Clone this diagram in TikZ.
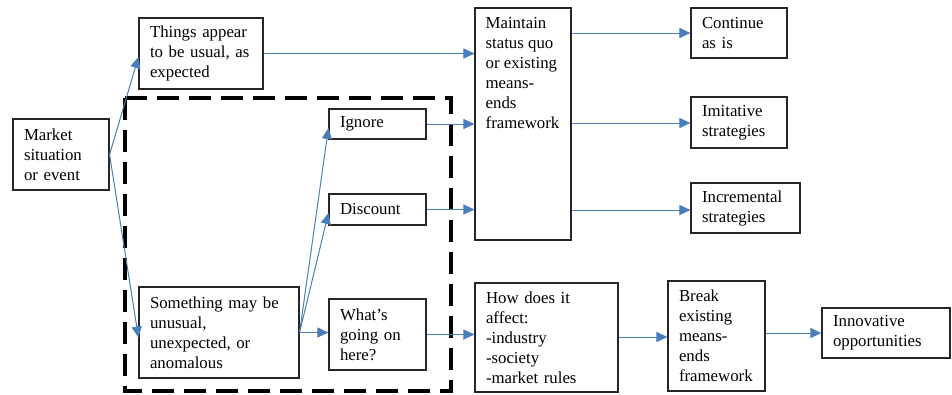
\documentclass[tikz,border=0pt]{standalone}
\usepackage{fontspec}
\setmainfont{Liberation Serif}
\usetikzlibrary{arrows.meta,calc}
\definecolor{arrblue}{HTML}{4A7EBB}
\tikzset{
  x=1pt, y=-1pt,
  box/.style={draw=black!85, line width=1.1pt, rectangle, inner xsep=11pt, inner ysep=0pt,
    align=left, font=\fontsize{16.8}{20}\selectfont},
  plain/.style={inner sep=0pt, align=left, font=\fontsize{16.8}{20}\selectfont},
  conn/.style={draw=arrblue, line width=1pt, -{Triangle[length=11pt,width=10pt]}},
  dashframe/.style={draw=black, line width=3.2pt, dash pattern=on 22pt off 10pt}
}
\begin{document}
\begin{tikzpicture}
\useasboundingbox (0,0) rectangle (952,394);
\draw[dashframe] (125,98) rectangle (451,391);

\node[box, minimum width=96pt, minimum height=71pt, text width=74pt] (market) at (61,154.5) {Market\\situation\\or event};
\node[box, minimum width=124pt, minimum height=71pt, text width=102pt] (things) at (201,53.5) {Things appear\\to be usual, as\\expected};
\node[box, minimum width=97pt, minimum height=30pt, text width=75pt] (ignore) at (377.5,124) {Ignore};
\node[box, minimum width=97pt, minimum height=31pt, text width=75pt] (discount) at (377.5,209.5) {Discount};
\node[box, minimum width=160pt, minimum height=91pt, text width=138pt] (some) at (219,332.5) {Something may be\\unusual,\\unexpected, or\\anomalous};
\node[box, minimum width=97pt, minimum height=71pt, text width=75pt] (whats) at (377.5,334.5) {What’s\\going on\\here?};
\node[box, minimum width=96pt, minimum height=232pt] (maint) at (523,124) {};
\node[plain, anchor=north west] (maintxt) at ($(maint.north west)+(11,10)$) {Maintain\\status quo\\or existing\\means-\\ends\\framework};
\node[box, minimum width=96pt, minimum height=50pt, text width=74pt] (cont) at (739,33) {Continue\\as is};
\node[box, minimum width=96pt, minimum height=51pt, text width=74pt] (imit) at (739,122.5) {Imitative\\strategies};
\node[box, minimum width=109pt, minimum height=50pt, text width=87pt] (incr) at (745.5,208) {Incremental\\strategies};
\node[box, minimum width=143pt, minimum height=109pt, text width=121pt] (how) at (546.5,337.5) {How does it\\affect:\\-industry\\-society\\-market rules};
\node[box, minimum width=97pt, minimum height=110pt, text width=75pt] (brk) at (716.5,336) {Break\\existing\\means-\\ends\\framework};
\node[box, minimum width=128pt, minimum height=50pt, text width=106pt] (innov) at (886,333) {Innovative\\opportunities};

\draw[conn] (market.east) -- ($(things.west)+(0,3.5)$);
\draw[conn] (market.east) -- ($(some.west)+(0,5)$);
\draw[conn] (things.east) -- (things.east -| maint.west);
\draw[conn] (ignore.east) -- (ignore.east -| maint.west);
\draw[conn] (discount.east) -- (discount.east -| maint.west);
\draw[conn] (some.east) -- ($(ignore.west)+(0,4)$);
\draw[conn] (some.east) -- ($(discount.west)+(0,3.5)$);
\draw[conn] (some.east) -- (some.east -| whats.west);
\draw[conn] (whats.east) -- (whats.east -| how.west);
\draw[conn] (cont.west -| maint.east) -- (cont.west);
\draw[conn] ($(imit.west -| maint.east)+(0,0.5)$) -- ($(imit.west)+(0,0.5)$);
\draw[conn] ($(incr.west -| maint.east)+(0,2)$) -- ($(incr.west)+(0,2)$);
\draw[conn] ($(how.east)+(0,-0.5)$) -- ($(how.east -| brk.west)+(0,-0.5)$);
\draw[conn] (innov.west -| brk.east) -- (innov.west);
\end{tikzpicture}
\end{document}
